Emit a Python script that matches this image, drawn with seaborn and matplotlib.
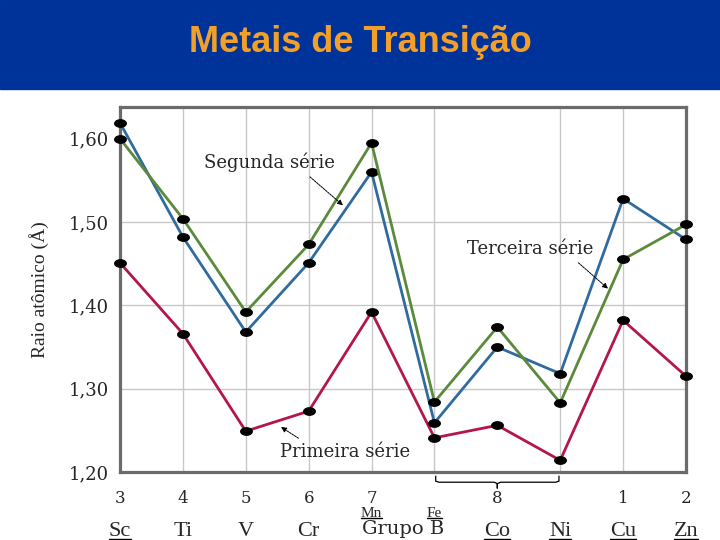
import numpy as np
import pandas as pd
import matplotlib
matplotlib.use("Agg")
import matplotlib.pyplot as plt
import matplotlib.transforms as mtransforms
from matplotlib.path import Path
from matplotlib.patches import Rectangle, PathPatch
from matplotlib.lines import Line2D
import seaborn as sns

# data (atomic radius, Angstrom)
positions = list(range(10))
group_labels = ["3", "4", "5", "6", "7", "", "8", "", "1", "2"]
elements = ["Sc", "Ti", "V", "Cr", "Mn", "Fe", "Co", "Ni", "Cu", "Zn"]
primeira = [1.451, 1.366, 1.249, 1.273, 1.392, 1.241, 1.256, 1.214, 1.382, 1.315]
segunda = [1.619, 1.482, 1.368, 1.451, 1.560, 1.259, 1.350, 1.318, 1.528, 1.479]
terceira = [1.600, 1.504, 1.392, 1.473, 1.595, 1.284, 1.374, 1.283, 1.455, 1.497]
y_ticks = [1.20, 1.30, 1.40, 1.50, 1.60]
y_grid = [1.30, 1.40, 1.50]
x_grid = [1, 2, 3, 4, 5, 7, 8]

sns.set_style("white")
plt.rcParams["font.family"] = ["DejaVu Serif"]

fig = plt.figure(figsize=(7.2, 5.4), dpi=100)
ax = fig.add_axes([120 / 720, 68 / 540, 566 / 720, 365 / 540])

# header banner
fig.patches.append(Rectangle((0, 1 - 89 / 540), 1, 89 / 540, transform=fig.transFigure,
                             color="#003399", zorder=0))
fig.text(0.5, 1 - 43 / 540, "Metais de Transição", ha="center", va="center",
         fontsize=26, fontweight="bold", color="#f3a02a", family="Liberation Sans")

for x in x_grid:
    ax.axvline(x, color="#c8c8c8", lw=1, zorder=0)
for y in y_grid:
    ax.axhline(y, color="#c8c8c8", lw=1, zorder=0)

# ellipse marker (wider than tall)
t = np.linspace(0, 2 * np.pi, 40)
ellipse = Path(np.column_stack([np.cos(t), 0.65 * np.sin(t)]))

series = [(primeira, "#b5164a"), (segunda, "#2f6b9f"), (terceira, "#5a8a3a")]
for vals, col in series:
    sns.lineplot(x=positions, y=vals, ax=ax, color=col, lw=2, marker=ellipse,
                 markersize=8.5, markerfacecolor="black", markeredgecolor="black",
                 clip_on=False, zorder=3)

ax.set_xlim(0, 9)
ax.set_ylim(1.20, 1.638)
ax.set_yticks(y_ticks)
ax.set_yticklabels([f"{v:.2f}".replace(".", ",") for v in y_ticks], fontsize=13)
ax.set_xticks(positions)
ax.set_xticklabels(group_labels, fontsize=12)
ax.tick_params(length=0, pad=8)
ax.tick_params(axis="x", pad=13)
for s in ax.spines.values():
    s.set_color("#6b6b6b")
    s.set_linewidth(2.3)

ax.set_ylabel("Raio atômico (Å)", family="Liberation Serif", fontsize=14, labelpad=14)

# element symbols under the group numbers
trans = mtransforms.blended_transform_factory(ax.transData, ax.transAxes)
under = {"Sc", "Co", "Ni", "Cu", "Zn", "Mn", "Fe"}
underlined = []
for x, el in zip(positions, elements):
    if el in ("Mn", "Fe"):
        tx = ax.text(x, -0.113, el, transform=trans, ha="center", va="center",
                     fontsize=11, family="Liberation Serif")
    else:
        tx = ax.text(x, -0.162, el, transform=trans, ha="center", va="center",
                     fontsize=16, family="Liberation Serif")
    if el in under:
        underlined.append(tx)
ax.text(4.5, -0.157, "Grupo B", transform=trans, ha="center", va="center",
        fontsize=14, family="DejaVu Serif")

# brace under group 8
bx0, bx1, bxm = 5.02, 6.98, 6.0
verts = [(bx0, -0.01), (bx0, -0.025), (bx0 + 0.05, -0.028), (bxm - 0.05, -0.028),
         (bxm, -0.032), (bxm, -0.045), (bxm, -0.032), (bxm + 0.05, -0.028),
         (bx1 - 0.05, -0.028), (bx1, -0.025), (bx1, -0.01)]
codes = [Path.MOVETO] + [Path.LINETO] * (len(verts) - 1)
ax.add_patch(PathPatch(Path(verts, codes), transform=trans, fill=False, lw=0.9,
                       color="black", clip_on=False))

arrow = dict(arrowstyle="-|>", lw=0.7, ls=(0, (2, 1)), color="black", mutation_scale=8)
ax.annotate("Segunda série", xy=(3.545, 1.520), xytext=(2.37, 1.572),
            ha="center", va="center", fontsize=13,
            arrowprops=dict(arrow, relpos=(0.75, 0.1), shrinkA=2, shrinkB=0))
ax.annotate("Terceira série", xy=(7.76, 1.420), xytext=(6.52, 1.468),
            ha="center", va="center", fontsize=13,
            arrowprops=dict(arrow, relpos=(0.82, 0.1), shrinkA=2, shrinkB=0))
ax.annotate("Primeira série", xy=(2.56, 1.254), xytext=(3.58, 1.224),
            ha="center", va="center", fontsize=13,
            arrowprops=dict(arrow, relpos=(0.22, 0.9), shrinkA=2, shrinkB=0))

# underline the element symbols
fig.canvas.draw()
for tx in underlined:
    bb = tx.get_window_extent()
    y = bb.y0 + 2
    fig.add_artist(Line2D([bb.x0, bb.x1], [y, y], transform=None, color="black", lw=1.0))

fig.savefig("out.png", dpi=100)
